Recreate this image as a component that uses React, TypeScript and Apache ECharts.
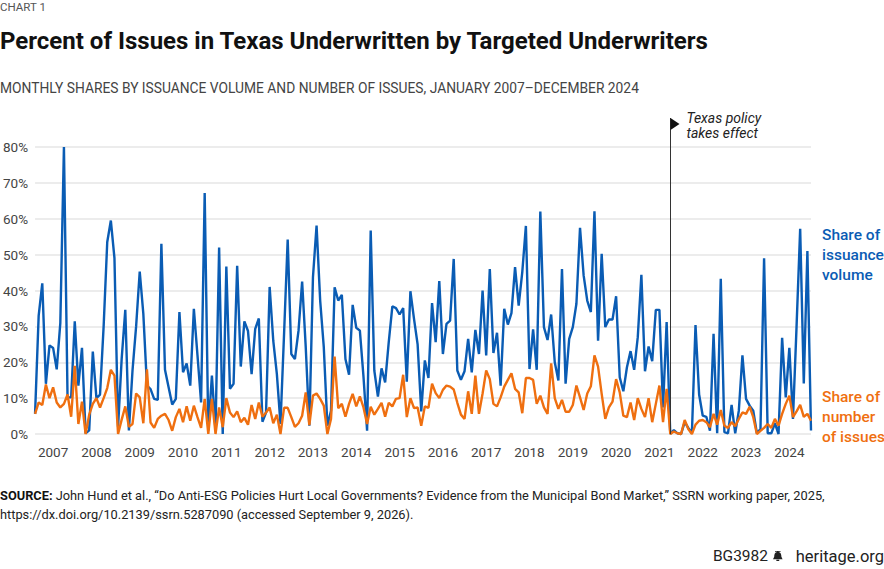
import React, { useEffect, useRef } from "react";
import * as echarts from "echarts";

const years = [2007, 2008, 2009, 2010, 2011, 2012, 2013, 2014, 2015, 2016, 2017, 2018, 2019, 2020, 2021, 2022, 2023, 2024];
const months = years.flatMap((y) => Array.from({ length: 12 }, (_, m) => `${y}-${String(m + 1).padStart(2, "0")}`));

const shareOfVolume = [
  5.6, 33, 42, 14, 24.7, 24, 18, 31, 80, 10.2, 10.2, 31.4,
  13.5, 24, 0.2, 1, 23, 10, 11, 30, 53.5, 59.5, 49, 2,
  21, 34.6, 1, 17.7, 30, 45.3, 33.5, 13.5, 12.5, 9.8, 9.5, 53,
  17.9, 13, 8.2, 9.8, 34, 17.2, 19.7, 13.5, 34.9, 22, 8.8, 67.2,
  1, 16.3, 1, 52, 0, 46.7, 12.6, 14, 46.9, 18.8, 31.4, 28.7,
  16.7, 29.3, 32.2, 3.4, 6, 41, 26, 16.7, 2.8, 28, 54.2, 22.3,
  20.9, 28.8, 42.5, 24.2, 2.3, 43.7, 58.1, 37.2, 24.2, 2.3, 6.5, 40.9,
  37.2, 38.8, 20.9, 16.5, 36, 29.6, 28.8, 16, 0.9, 56.7, 17.7, 10.4,
  18.3, 14.4, 25.6, 35.6, 35.1, 33.3, 35.1, 14.6, 39.8, 32.1, 25, 6.3,
  20.5, 15.6, 36.5, 25.6, 42.6, 22.3, 30.7, 31.6, 48.8, 17.7, 15.1, 17.5,
  26.5, 17.2, 29, 22.3, 40, 21.9, 46, 22.6, 28.2, 13.5, 34.9, 30.5,
  33.7, 46.5, 35.8, 45.1, 58, 18.1, 29.2, 17.9, 62, 29.8, 26.2, 33.3,
  20, 14.9, 46, 14, 26.5, 29.8, 36.3, 57.5, 44.2, 37.2, 34, 62.1,
  26, 50.2, 29.8, 31.9, 31.9, 38.4, 15.8, 11.9, 18.6, 23.1, 17.9, 27,
  44.4, 17.5, 24.4, 20.3, 34.6, 34.6, 7.4, 31.2, 0, 1.1, 0.2, 0,
  3.3, 1.7, 0.2, 30.4, 11, 5.1, 4.8, 0.9, 27.9, 0.2, 43.3, 0.5,
  0.2, 8.1, 0.2, 6.5, 21.9, 9.8, 7.9, 6.5, 0.2, 1.4, 49, 0.2,
  0.2, 3, 0, 26.8, 10.2, 24, 4.2, 30, 57.2, 14.1, 51, 1,
];

const shareOfIssues = [
  5.6, 8.8, 8.1, 13.8, 10, 13, 8.8, 7.4, 8.4, 11, 4.8, 19,
  2.8, 9, 0, 5.4, 8.4, 10, 7.4, 10, 12.8, 17.9, 16.3, 0,
  4, 7.7, 2, 2.8, 11.3, 10.2, 3, 18, 3.2, 1.7, 4.2, 5.1,
  5.6, 3.9, 0.9, 4.7, 7, 3.3, 7.7, 3.7, 7.9, 4.7, 1.7, 9.8,
  0, 9.8, 0, 7.4, 1.9, 10, 6, 4.7, 6.3, 3.3, 4.5, 2.6,
  8.1, 4.2, 8.8, 4.8, 6, 7.4, 3, 5.4, 0, 7.3, 7.3, 4.7,
  2, 3, 5.1, 11.6, 2.5, 10.7, 11.3, 9.8, 7.9, 0, 4.2, 21.6,
  7.2, 8.4, 4.8, 8.4, 11.2, 7.7, 10.5, 7.4, 2.8, 7.6, 5.4, 7,
  8.7, 4.8, 8.7, 7.7, 9.8, 10, 16.5, 4.7, 10, 7.2, 7.4, 2.3,
  7.7, 7.3, 14, 11.4, 10, 12.3, 13.5, 13.2, 12.4, 8.7, 5.4, 4.2,
  11.9, 5.6, 16.3, 5.6, 11.3, 17.7, 15.3, 8.4, 7.7, 10.2, 13.2, 15.1,
  16.9, 12.6, 11.6, 5.8, 15.6, 15.6, 15.1, 8.4, 10.7, 7.4, 5.6, 19.7,
  10, 7, 9.5, 6.2, 6.2, 8.1, 13.5, 10.2, 6.7, 11.3, 13.3, 21.9,
  18.8, 11.2, 4.2, 7.4, 9, 15.3, 11.6, 5.1, 4.7, 8.8, 3.9, 10,
  7, 4.7, 10, 3.3, 8.4, 13.5, 3.3, 12.6, 0, 0.7, 0.2, 0,
  3.9, 1.4, 0, 2.6, 3.7, 3.9, 3.3, 1.9, 5.6, 2.6, 6.7, 2.3,
  1.7, 3.3, 2.2, 4.2, 6, 5.6, 7.6, 4.7, 0, 0.9, 1.7, 2.8,
  1.7, 4.2, 2.3, 5.6, 8.4, 10.7, 4.7, 6.3, 8.1, 4.8, 5.6, 3.7,
];

const policyMonth = "2021-09";
const seriesNames = ["Share of issuance volume", "Share of number of issues"];
const volumeLabel = ["Share of", "issuance", "volume"];
const issuesLabel = ["Share of", "number", "of issues"];

const BLUE = "#0a5cb4";
const ORANGE = "#ef6f10";
const FONT = "Roboto, 'Noto Sans', sans-serif";

const bellPath =
  "M5 0 L7 0 L7 1.2 C9.6 1.6 10.4 3.6 10.5 6.5 L12 9.2 L0 9.2 L1.5 6.5 C1.6 3.6 2.4 1.6 5 1.2 Z M4.2 9.8 L7.8 9.8 L7.8 11 L4.2 11 Z M2.5 0 L9.5 0 L9.5 0.8 L2.5 0.8 Z";
echarts.graphic.registerShape("bell", echarts.graphic.extendPath(bellPath, {}));

export default function App() {
  const ref = useRef<HTMLDivElement>(null);
  useEffect(() => {
    if (!ref.current) return;
    const chart = echarts.init(ref.current, null, { renderer: "svg" });
    const option: any = {
      animation: false,
      grid: { left: 31, right: 73, top: 147, bottom: 135, containLabel: false },
      xAxis: {
        type: "category",
        data: months,
        boundaryGap: false,
        axisLine: { show: false },
        axisTick: { show: false },
        splitLine: { show: false },
        axisLabel: {
          interval: (i: number) => i % 12 === 5,
          formatter: (v: string) => v.slice(0, 4),
          color: "#444",
          fontSize: 13.5,
          fontFamily: FONT,
          margin: 11,
        },
      },
      yAxis: {
        type: "value",
        min: 0,
        max: 80,
        interval: 10,
        axisLine: { show: false },
        axisTick: { show: false },
        splitLine: { lineStyle: { color: "#e6e6e6", width: 1.5 } },
        axisLabel: { formatter: "{value}%", color: "#444", fontSize: 13.5, fontFamily: FONT, margin: 7 },
      },
      series: [
        {
          name: seriesNames[0],
          type: "line",
          data: shareOfVolume,
          showSymbol: false,
          lineStyle: { color: BLUE, width: 2.4 },
          itemStyle: { color: BLUE },
          emphasis: { disabled: true },
          clip: false,
        },
        {
          name: seriesNames[1],
          type: "line",
          data: shareOfIssues,
          showSymbol: false,
          lineStyle: { color: ORANGE, width: 2.4 },
          itemStyle: { color: ORANGE },
          emphasis: { disabled: true },
          clip: false,
        },
      ],
    };
    chart.setOption(option);

    const px = chart.convertToPixel({ xAxisIndex: 0 }, policyMonth) as number;
    const yZero = chart.convertToPixel({ yAxisIndex: 0 }, 0) as number;
    const lineX = Math.round(px) + 0.5;

    const txt = (id: string, x: number, y: number, text: string, style: any) => ({
      type: "text",
      id,
      x,
      y,
      z: 10,
      style: { text, fontFamily: FONT, verticalAlign: "middle", align: "left", ...style },
    });

    const graphic: any[] = [
      txt("chart1", 0, 7, "CHART 1", { fontSize: 11.5, fill: "#555" }),
      txt("title", 0, 41, "Percent of Issues in Texas Underwritten by Targeted Underwriters", {
        fontSize: 24,
        fontWeight: "bold",
        fill: "#111",
      }),
      txt("subtitle", 0, 88, "MONTHLY SHARES BY ISSUANCE VOLUME AND NUMBER OF ISSUES, JANUARY 2007\u2013DECEMBER 2024", {
        fontSize: 13.8,
        fill: "#444",
      }),
      {
        type: "line",
        id: "policyLine",
        z: 5,
        shape: { x1: lineX, y1: 118, x2: lineX, y2: yZero },
        style: { stroke: "#333", lineWidth: 1 },
      },
      {
        type: "polygon",
        id: "flag",
        z: 5,
        shape: { points: [[lineX, 118], [lineX + 9, 124], [lineX, 130]] },
        style: { fill: "#111" },
      },
      txt("pol1", lineX + 16, 118, "Texas policy", { fontSize: 14, fontStyle: "italic", fill: "#222" }),
      txt("pol2", lineX + 16, 133, "takes effect", { fontSize: 14, fontStyle: "italic", fill: "#222" }),
      ...volumeLabel.map((t, i) =>
        txt("vol" + i, 822, 235 + i * 20, t, { fontSize: 15.5, fontWeight: 500, fill: BLUE })
      ),
      ...issuesLabel.map((t, i) =>
        txt("iss" + i, 822, 397 + i * 20, t, { fontSize: 15.5, fontWeight: 500, fill: ORANGE })
      ),
      {
        type: "text",
        id: "src1",
        x: 0,
        y: 495,
        style: {
          text:
            "{b|SOURCE:} John Hund et al., \u201cDo Anti-ESG Policies Hurt Local Governments? Evidence from the Municipal Bond Market,\u201d SSRN working paper, 2025,",
          fontFamily: FONT,
          fontSize: 12.8,
          fill: "#222",
          verticalAlign: "middle",
          rich: { b: { fontFamily: FONT, fontSize: 12.8, fontWeight: "bold", fill: "#111" } },
        },
      },
      txt("src2", 0, 514, "https://dx.doi.org/10.2139/ssrn.5287090 (accessed September 9, 2026).", {
        fontSize: 12.8,
        fill: "#222",
      }),
      txt("footer1", 884, 556, "heritage.org", { fontSize: 16.5, fill: "#222", align: "right" }),
      txt("footer2", 768, 556, "BG3982", { fontSize: 15.5, fill: "#222", align: "right" }),
      {
        type: "bell",
        id: "bell",
        x: 773,
        y: 551,
        scaleX: 0.8,
        scaleY: 0.9,
        style: { fill: "#222" },
      },
    ];
    chart.setOption({ graphic });

    return () => chart.dispose();
  }, []);
  return <div ref={ref} style={{ position: "fixed", left: 0, top: 0, width: 884, height: 569, background: "#fff" }} />;
}
